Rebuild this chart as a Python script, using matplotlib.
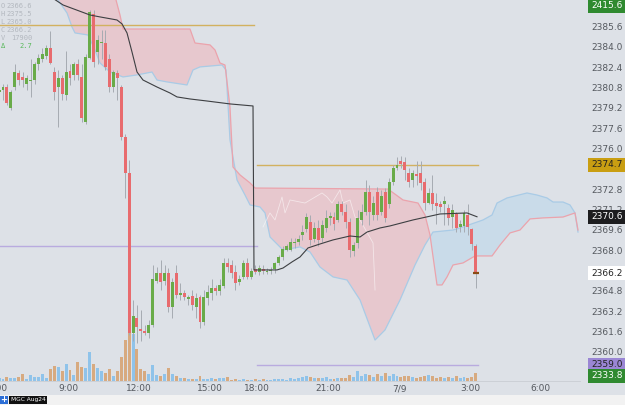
import numpy as np
import matplotlib

matplotlib.use("Agg")
import matplotlib.pyplot as plt
from matplotlib.patches import Rectangle
from matplotlib.transforms import blended_transform_factory

W, H = 625, 405
BG = "#dde1e7"

# 10-minute bars of MGC Aug24, 7/8 06:00 -> 7/9 03:20 (17:00-18:00 break skipped)
opens = [2380.4, 2380.6, 2380.8, 2379.2, 2380.8, 2381.9, 2381.6, 2381.1, 2381.3, 2381.4,
         2382.6, 2383.0, 2383.3, 2383.9, 2382.0, 2380.8, 2381.5, 2380.2, 2382.1, 2381.8,
         2382.6, 2381.6, 2378.1, 2383.1, 2386.6, 2383.6, 2384.3, 2384.3, 2383.0, 2380.8,
         2381.9, 2380.8, 2376.9, 2374.1, 2361.5, 2362.7, 2361.8, 2361.65, 2361.5, 2362.1,
         2365.6, 2366.2, 2365.6, 2366.2, 2363.5, 2366.2, 2364.5, 2364.6, 2364.2, 2364.4,
         2363.5, 2364.3, 2362.35, 2364.25, 2364.6, 2365.0, 2364.8, 2365.2, 2367.0, 2366.8,
         2366.3, 2365.5, 2365.9, 2367.0, 2365.9, 2366.5, 2366.3, 2366.5, 2366.3, 2366.4,
         2366.5, 2367.0, 2367.5, 2368.0, 2368.0, 2368.6, 2368.65, 2369.2, 2369.7, 2370.2,
         2368.9, 2369.75, 2369.0, 2369.75, 2370.5, 2370.6, 2370.4, 2371.6, 2371.0, 2370.2,
         2367.9, 2368.6, 2370.4, 2371.0, 2372.6, 2370.8, 2372.6, 2371.0, 2372.6, 2371.6,
         2373.4, 2374.5, 2375.0, 2374.9, 2374.1, 2373.5, 2374.0, 2374.1, 2373.4, 2371.7,
         2372.5, 2371.7, 2371.6, 2371.6, 2371.3, 2370.6, 2370.85, 2369.8, 2369.9, 2370.8,
         2369.7, 2368.3]
highs = [2381.0, 2381.1, 2381.1, 2380.6, 2382.6, 2382.2, 2382.0, 2381.8, 2383.0, 2382.8,
         2383.4, 2383.9, 2384.1, 2385.2, 2382.4, 2382.2, 2381.8, 2383.7, 2382.6, 2382.8,
         2383.0, 2382.6, 2383.4, 2386.9, 2386.9, 2384.9, 2385.3, 2385.3, 2383.4, 2382.2,
         2382.2, 2381.0, 2377.1, 2375.1, 2364.1, 2363.7, 2363.3, 2362.1, 2362.5, 2366.8,
         2366.7, 2367.2, 2366.8, 2366.6, 2365.8, 2366.8, 2365.4, 2364.9, 2364.5, 2364.9,
         2364.6, 2364.5, 2364.9, 2365.3, 2365.7, 2365.3, 2365.7, 2367.4, 2367.4, 2367.2,
         2366.8, 2366.05, 2367.2, 2367.4, 2366.6, 2366.8, 2366.8, 2366.8, 2366.6, 2366.7,
         2367.1, 2367.6, 2368.3, 2368.5, 2369.0, 2369.0, 2369.2, 2370.0, 2370.9, 2370.8,
         2370.2, 2370.4, 2370.4, 2371.2, 2371.0, 2371.0, 2371.9, 2371.9, 2371.6, 2370.5,
         2368.65, 2371.2, 2371.6, 2373.5, 2373.1, 2372.3, 2373.0, 2372.7, 2372.9, 2373.7,
         2374.7, 2375.3, 2375.4, 2375.3, 2374.5, 2374.3, 2375.0, 2375.0, 2373.7, 2372.9,
         2373.9, 2372.5, 2371.9, 2372.3, 2371.6, 2371.6, 2371.0, 2370.4, 2371.2, 2371.6,
         2369.75, 2368.5]
lows = [2380.05, 2379.8, 2379.4, 2379.0, 2380.6, 2381.0, 2380.8, 2380.6, 2380.05, 2381.1,
        2382.2, 2382.8, 2383.0, 2382.6, 2379.8, 2377.7, 2379.8, 2379.8, 2381.0, 2381.4,
        2381.4, 2378.1, 2377.9, 2383.0, 2382.4, 2382.6, 2383.0, 2382.2, 2380.4, 2380.4,
        2379.8, 2376.7, 2372.1, 2361.3, 2360.9, 2360.7, 2360.9, 2361.3, 2361.1, 2361.95,
        2365.4, 2364.9, 2365.3, 2363.15, 2362.7, 2364.25, 2364.1, 2364.1, 2363.7, 2363.3,
        2362.7, 2361.9, 2362.1, 2363.7, 2364.1, 2364.5, 2364.5, 2365.0, 2366.3, 2365.8,
        2364.9, 2365.3, 2365.7, 2365.7, 2365.7, 2366.1, 2366.05, 2366.1, 2366.1, 2366.1,
        2366.2, 2366.8, 2367.2, 2367.9, 2367.9, 2368.2, 2368.4, 2368.8, 2369.4, 2368.4,
        2368.65, 2368.3, 2368.65, 2369.4, 2370.0, 2369.6, 2370.2, 2370.8, 2369.75, 2367.5,
        2367.55, 2368.2, 2370.0, 2370.8, 2370.0, 2370.4, 2370.4, 2370.8, 2370.2, 2371.3,
        2373.1, 2374.3, 2374.5, 2373.5, 2373.0, 2373.0, 2373.1, 2372.7, 2371.2, 2371.6,
        2371.2, 2370.1, 2371.0, 2370.0, 2370.0, 2369.75, 2369.4, 2369.4, 2369.4, 2369.2,
        2368.0, 2365.0]
closes = [2380.6, 2380.8, 2379.6, 2380.4, 2382.0, 2381.4, 2381.4, 2381.5, 2381.4, 2382.6,
          2383.1, 2383.4, 2383.9, 2382.7, 2380.4, 2381.5, 2380.3, 2382.0, 2381.5, 2382.6,
          2381.8, 2378.4, 2383.2, 2386.7, 2382.8, 2384.5, 2384.4, 2382.4, 2380.8, 2382.0,
          2381.5, 2376.9, 2374.1, 2361.5, 2362.8, 2361.95, 2361.65, 2361.5, 2362.1, 2365.7,
          2366.2, 2365.5, 2366.2, 2363.5, 2365.5, 2364.5, 2364.6, 2364.3, 2364.3, 2363.7,
          2364.25, 2362.35, 2364.3, 2364.7, 2365.0, 2364.8, 2365.3, 2367.0, 2366.7, 2366.2,
          2365.4, 2365.7, 2367.0, 2365.9, 2366.4, 2366.3, 2366.6, 2366.4, 2366.4, 2366.45,
          2367.0, 2367.5, 2368.1, 2368.3, 2368.65, 2368.65, 2368.9, 2369.4, 2370.6, 2368.8,
          2369.75, 2368.8, 2370.0, 2370.5, 2370.7, 2370.1, 2371.6, 2371.0, 2370.2, 2368.0,
          2368.4, 2370.5, 2371.0, 2372.6, 2371.0, 2371.7, 2370.8, 2372.3, 2370.5, 2373.4,
          2374.5, 2374.7, 2374.8, 2374.3, 2373.4, 2374.1, 2373.8, 2373.3, 2371.7, 2372.5,
          2371.6, 2371.5, 2371.4, 2371.9, 2370.5, 2371.2, 2369.75, 2370.1, 2370.9, 2369.8,
          2368.5, 2366.2]
volumes = [150, 100, 200, 150, 150, 200, 350, 100, 300, 200,
           200, 350, 150, 600, 750, 700, 500, 850, 550, 300,
           950, 700, 650, 1450, 850, 650, 500, 400, 600, 250,
           500, 1200, 2050, 3800, 2350, 1600, 600, 500, 350, 800,
           300, 250, 350, 650, 350, 250, 150, 150, 100, 100,
           100, 250, 100, 100, 150, 100, 150, 150, 200, 50,
           100, 50, 100, 50, 50, 100, 50, 100, 50, 50,
           100, 100, 100, 50, 150, 100, 150, 200, 250, 200,
           150, 150, 150, 200, 100, 100, 150, 150, 150, 300,
           200, 500, 250, 350, 300, 200, 350, 250, 400, 250,
           350, 250, 200, 250, 250, 200, 150, 200, 250, 300,
           250, 150, 200, 150, 200, 150, 250, 150, 200, 150,
           200, 400]

# session VWAP (bar position, price)
vwap_x = [14.19, 16.73, 23.58, 26.12, 30.43, 31.70, 32.97, 34.24, 35.51, 37.03, 40.58, 43.88,
          45.66, 48.96, 53.27, 59.11, 64.95, 65.2, 66.73, 71.04, 72.56, 74.85, 76.88, 78.91,
          81.95, 85.26, 89.57, 92.11, 93.88, 97.18, 99.72, 105.56, 112.41, 119.27, 121.8]
vwap_y = [2387.8, 2387.28, 2386.49, 2386.34, 2386.10, 2385.79, 2385.08, 2383.58, 2382.01,
          2381.38, 2380.83, 2380.36, 2380.05, 2379.89, 2379.73, 2379.50, 2379.34, 2366.45,
          2366.45, 2366.45, 2366.60, 2367.08, 2367.47, 2368.18, 2368.49, 2368.81, 2369.12,
          2369.04, 2369.43, 2369.75, 2369.91, 2370.38, 2370.85, 2370.93, 2370.63]

# faint lagging line inside the overnight cloud
lag_x = [67.49, 69.26, 70.53, 72.31, 73.07, 74.34, 78.15, 82.46, 83.73, 85.0, 87.03, 87.79,
         89.57, 90.84, 92.11, 95.41, 95.92]
lag_y = [2369.83, 2370.93, 2370.38, 2372.19, 2370.93, 2371.95, 2371.71, 2372.50, 2372.19,
         2371.71, 2372.74, 2371.71, 2371.95, 2370.61, 2370.38, 2368.57, 2364.87]

# cloud: leading span A (blue edge) and span B (pink edge)
span_a_x = [14.70, 15.46, 17.74, 19.01, 19.77, 23.07, 24.85, 26.12, 28.66, 31.96, 35.51, 39.31,
            40.58, 43.12, 48.20, 49.72, 51.50, 57.08, 58.10, 59.11, 60.89, 62.92, 64.19, 66.73,
            68.00, 69.27, 72.56, 76.88, 79.42, 81.95, 85.26, 88.81, 92.11, 95.92, 98.45, 102.26,
            106.07, 108.60, 110.63, 115.71, 118.25, 123.33, 125.61, 126.88, 129.42, 134.49,
            137.03, 139.57, 141.09, 143.63, 145.40, 146.67, 147.43]
span_a_y = [2390.8, 2387.67, 2386.65, 2385.55, 2385.08, 2384.92, 2383.74, 2382.72, 2382.01,
            2381.62, 2381.78, 2382.01, 2381.38, 2381.23, 2380.99, 2382.17, 2382.41, 2382.56,
            2382.17, 2376.67, 2373.52, 2372.34, 2371.56, 2371.40, 2370.93, 2369.04, 2368.02,
            2368.26, 2367.86, 2366.68, 2365.90, 2365.66, 2364.09, 2360.94, 2361.73, 2364.09,
            2366.84, 2368.41, 2369.43, 2369.59, 2369.83, 2370.38, 2370.77, 2371.71, 2372.11,
            2372.50, 2372.34, 2372.11, 2371.79, 2371.79, 2371.56, 2370.93, 2369.43]
span_b_x = [14.70, 29.16, 30.18, 31.19, 31.96, 48.96, 50.23, 54.04, 55.31, 56.57, 57.84, 59.11,
            59.87, 61.65, 64.19, 65.46, 99.21, 103.02, 106.83, 108.60, 109.87, 111.65, 112.92,
            114.19, 115.71, 118.25, 121.29, 125.61, 127.64, 130.18, 132.72, 135.25, 138.55,
            143.63, 146.67, 147.43]
span_b_y = [2392.0, 2390.8, 2387.67, 2386.49, 2385.39, 2385.39, 2384.29, 2384.14, 2383.74,
            2382.72, 2382.56, 2379.26, 2374.54, 2373.92, 2373.29, 2372.89, 2372.81, 2371.95,
            2371.71, 2370.77, 2369.20, 2365.27, 2365.27, 2365.90, 2366.84, 2367.00, 2367.55,
            2367.55, 2368.41, 2369.36, 2369.59, 2370.46, 2370.54, 2370.61, 2370.93, 2369.59]

# horizontal levels: price, from bar, to bar
level_price = [2385.7, 2368.3, 2374.7, 2359.0]
level_from = [0, 0, 66, 66]
level_to = [65.3, 66, 122, 122]
level_color = ["#d2b160", "#b9abdf", "#d2b160", "#b9abdf"]

price_ticks = [2358.4 + 1.6 * k for k in range(19)]
time_pos = [0, 18, 36, 54, 66, 84, 102, 120, 138]
time_labels = ["6:00", "9:00", "12:00", "15:00", "18:00", "21:00", "7/9", "3:00", "6:00"]

legend_keys = ["O", "H", "L", "C", "V", "Δ"]
legend_vals = ["2366.6", "2375.5", "2365.0", "2366.2", "17900", "2.7"]

UP, DOWN = "#69ab49", "#e86b6e"
VOL_UP, VOL_DOWN = "#8fc3ea", "#d7aa80"

o, h, l, c = map(np.array, (opens, highs, lows, closes))
pos = np.arange(len(c)) + 0.5
up = c >= o

fig = plt.figure(figsize=(W / 100, H / 100), dpi=100, facecolor=BG)
rect = [0, 24 / H, 580 / W, 381 / H]
vax = fig.add_axes(rect)
ax = fig.add_axes(rect, sharex=vax)
vax.set_facecolor(BG)
ax.patch.set_visible(False)

# volume
vax.bar(pos, volumes, width=0.75, color=np.where(up, VOL_UP, VOL_DOWN), linewidth=0)
vax.set_ylim(0, 19050)
vax.set_yticks([])
vax.tick_params(axis="x", bottom=False, labelbottom=False)
for s in vax.spines.values():
    s.set_visible(False)

# ichimoku cloud
grid = np.linspace(span_a_x[0], span_a_x[-1], 1200)
a = np.interp(grid, span_a_x, span_a_y)
b = np.interp(grid, span_b_x, span_b_y)
ax.fill_between(grid, a, b, where=b >= a, interpolate=True, color="#e7c8ce", lw=0, zorder=1)
ax.fill_between(grid, a, b, where=a > b, interpolate=True, color="#c9dbe9", lw=0, zorder=1)
ax.plot(span_a_x, span_a_y, color="#a9cbe6", lw=0.9, zorder=1.5)
ax.plot(span_b_x, span_b_y, color="#eba3ac", lw=0.9, zorder=1.5)

# levels
for p, x0, x1, col in zip(level_price, level_from, level_to, level_color):
    ax.plot([x0, x1], [p, p], color=col, lw=1.0, zorder=2)

ax.plot(lag_x, lag_y, color="white", lw=0.6, alpha=0.55, zorder=2.2)

# candles
ax.vlines(pos, l, h, color="#a6abb2", lw=0.7, zorder=3)
body = np.where(np.abs(c - o) < 0.05, 0.05, c - o)
ax.bar(pos, body, bottom=o, width=0.75, color=np.where(up, UP, DOWN), linewidth=0, zorder=4)
ax.plot(pos[-1], c[-1], marker="_", ms=4, mew=1.6, color="#8a4a14", zorder=4.5)

# vwap
ax.plot(vwap_x, vwap_y, color="#3d3f42", lw=0.8, zorder=5)

ax.set_xlim(0.736, 147.94)
ax.set_ylim(2357.72, 2387.67)

for s in ax.spines.values():
    s.set_visible(False)
ax.spines["bottom"].set_visible(True)
ax.spines["bottom"].set_color("#c9cdd3")
ax.spines["bottom"].set_linewidth(0.6)

ax.yaxis.tick_right()
ax.set_yticks(price_ticks)
ax.set_yticklabels([f"{t:.1f}" for t in price_ticks])
ax.tick_params(axis="y", length=0, pad=8, labelsize=6.5, labelcolor="#55595f")
ax.tick_params(axis="x", bottom=False, labelbottom=False)

tx = blended_transform_factory(ax.transData, ax.transAxes)
for p, lab in zip(time_pos, time_labels):
    ax.text(p, -0.009, lab, transform=tx, ha="center", va="top", fontsize=6.5,
            color="#55595f", clip_on=False)


def tag(y, text, fc, tc, trans):
    ax.text(1 + 11 / 580, y, text, transform=trans, ha="left", va="center", fontsize=6.5,
            color=tc, zorder=10, clip_on=False,
            bbox=dict(boxstyle="square,pad=0.3", fc=fc, ec="none"))


ty = blended_transform_factory(ax.transAxes, ax.transData)
tag(level_price[2], f"{level_price[2]:.1f}", "#c99e12", "#222222", ty)
tag(vwap_y[-1], f"{vwap_y[-1]:.1f}", "#1d1d1f", "white", ty)
tag(c[-1], f"{c[-1]:.1f}", "white", "#222222", ty)
tag(level_price[3], f"{level_price[3]:.1f}", "#9a86d4", "#222222", ty)
tag(1 - 6 / 381, "2415.6", "#2f8a30", "white", ax.transAxes)
tag(5 / 381, "2333.8", "#2f8a30", "white", ax.transAxes)

# OHLC readout
for k, (key, val) in enumerate(zip(legend_keys, legend_vals)):
    col = "#58b85a" if key == "Δ" else "#b3b8bf"
    yy = 1 - (6.3 + 8 * k) / H
    fig.text(0.5 / W, yy, key, fontsize=5, color=col, va="center", ha="left",
             family="DejaVu Sans Mono")
    fig.text(32 / W, yy, val, fontsize=5, color=col, va="center", ha="right",
             family="DejaVu Sans Mono")

# bottom strip with symbol tag
fig.add_artist(Rectangle((0, 0), 1, 10 / H, transform=fig.transFigure, fc="#f2f2f2", ec="none"))
fig.add_artist(Rectangle((0, 1 / H), 8 / W, 8 / H, transform=fig.transFigure, fc="#2d6fd6", ec="none"))
fig.text(4 / W, 5 / H, "+", color="white", fontsize=6, ha="center", va="center", weight="bold")
fig.add_artist(Rectangle((9 / W, 1 / H), 38 / W, 8 / H, transform=fig.transFigure, fc="#111111", ec="none"))
fig.text(28 / W, 5 / H, "MGC Aug24", color="white", fontsize=4.2, ha="center", va="center")

fig.savefig("out.png", dpi=100, facecolor=BG)
